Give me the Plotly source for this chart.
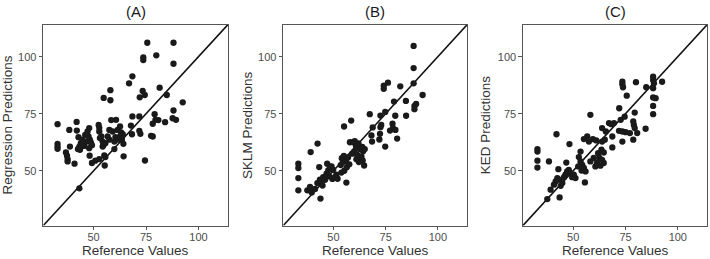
import plotly.graph_objects as go

# ---------------- data ----------------
x_a = [32.8, 32.8, 32.8, 32.8,
       36.8, 37.3, 37.6, 37.6, 38.4, 38.7,
       40.9, 41.9, 42.0, 42.8, 43.2, 43.5, 42.5, 43.2, 44.7, 43.9,
       45.5, 46.0, 47.1, 46.7, 47.9, 47.6, 48.2, 48.1, 49.2, 48.7, 47.9, 49.2,
       50.8, 52.4, 52.7, 52.7, 53.0, 53.7, 54.3, 54.8, 55.1, 55.6, 55.3, 54.6, 54.3, 55.6, 52.7,
       58.0, 58.0, 58.4, 60.7, 57.5, 56.7, 57.5, 59.9, 59.1, 60.4, 59.9,
       61.5, 62.6, 62.6, 63.1, 63.5, 64.2, 64.3, 61.9, 63.9,
       66.9, 68.5, 68.5, 67.8, 68.3, 71.8, 72.0, 71.8, 72.3, 73.4, 73.7, 73.7, 74.4, 74.5, 75.6,
       77.4, 78.2, 78.2, 79.1, 79.5, 79.9, 80.9, 81.5, 84.1, 84.9,
       87.7, 89.3, 88.1, 88.1, 88.1, 92.5]
y_a = [70.4, 61.8, 60.6, 59.6,
       58.0, 56.6, 55.1, 54.1, 67.9, 60.6,
       53.1, 71.4, 67.6, 64.7, 60.6, 59.2, 59.5, 42.3, 63.6, 62.1,
       60.9, 65.7, 67.2, 62.8, 68.7, 65.0, 63.6, 56.6, 53.4, 62.4, 59.9, 61.2,
       54.4, 70.1, 68.8, 67.2, 64.3, 65.0, 60.6, 81.9, 56.7, 56.0, 52.3, 61.1, 62.8, 62.1, 55.1,
       85.3, 80.9, 72.2, 72.3, 67.9, 65.0, 63.6, 59.5, 67.2, 64.7, 62.8,
       67.9, 69.4, 65.0, 66.8, 63.6, 61.8, 56.3, 63.6, 66.0,
       88.3, 91.4, 73.8, 69.8, 66.0, 73.8, 82.2, 67.5, 66.2, 85.0, 99.7, 98.5, 83.2, 54.5, 106.1,
       65.3, 65.0, 70.6, 74.8, 72.3, 100.6, 72.2, 86.4, 71.3, 83.2,
       73.0, 72.3, 106.1, 96.9, 76.4, 80.0]

x_b = [33.2, 33.2, 33.2, 33.2,
       37.5, 38.8, 39.6, 41.2, 39.1, 42.4, 43.2, 43.8,
       42.3, 43.5, 44.2, 45.1, 46.0, 46.7, 47.5, 48.3, 47.0, 49.1, 49.9, 50.7, 49.5, 51.4, 48.0, 52.0, 44.8,
       53.5, 54.0, 54.5, 55.2, 55.0, 56.0, 56.4, 56.2, 55.1, 57.0, 57.6, 53.8,
       58.5, 57.9, 59.0, 59.5, 60.0, 60.8, 61.3, 61.0, 62.0, 62.5, 63.0, 63.4, 63.8, 64.2, 64.7, 64.0, 62.2, 60.2, 65.0,
       67.4, 68.2, 68.5, 68.8, 72.3, 72.0, 72.5, 72.9, 72.5, 74.8, 74.8, 74.1, 74.1, 76.1, 77.1, 78.3, 78.5, 79.7,
       79.0, 79.6, 80.5, 82.0,
       84.7, 84.8, 88.4, 88.4, 88.4, 88.8, 89.6, 88.8, 92.7]
y_b = [53.1, 51.2, 46.8, 41.4,
       41.4, 42.9, 40.5, 42.0, 58.2, 61.9, 51.6, 37.8,
       44.6, 46.1, 45.0, 47.2, 46.0, 48.7, 50.1, 51.9, 53.1, 51.9, 50.4, 47.2, 46.4, 48.3, 47.5, 46.5, 43.5,
       52.5, 55.5, 53.8, 50.0, 56.5, 54.0, 51.5, 44.8, 69.4, 55.8, 52.8, 49.2,
       72.0, 62.5, 57.5, 62.5, 58.5, 60.8, 57.0, 55.0, 62.0, 59.5, 56.0, 56.3, 60.5, 58.5, 52.3, 54.5, 53.8, 63.0, 59.5,
       74.8, 65.5, 62.8, 69.0, 66.2, 63.7, 74.2, 70.1, 69.1, 60.6, 75.8, 87.3, 85.9, 88.6, 67.6, 70.6, 68.7, 67.9,
       80.3, 74.1, 64.1, 87.0,
       80.6, 74.1, 104.7, 95.0, 88.3, 78.4, 79.3, 77.0, 83.2]

x_c = [32.9, 32.9, 32.9, 32.9,
       37.6, 38.4, 39.2, 40.8, 41.6, 42.0, 42.4, 42.9, 43.2, 43.5, 44.0, 44.8,
       45.6, 46.3, 46.7, 47.1, 47.9, 48.2, 48.7, 49.5, 50.3, 51.1,
       52.4, 52.7, 53.5, 53.5, 54.0, 54.3, 55.1, 55.1, 55.6, 55.9, 56.7, 57.5,
       58.2, 58.2, 59.4, 59.8, 60.6, 61.0, 61.4, 61.9, 62.5, 63.0, 63.5, 63.8, 63.8, 63.8, 64.6, 64.6,
       65.1, 65.6, 67.1, 68.2, 69.5, 68.7, 68.7, 71.9, 72.0, 72.7, 73.5, 73.5, 73.5, 73.5, 73.8, 74.6, 75.1, 75.6,
       77.1, 78.7, 79.0, 79.4, 78.7, 79.4, 80.0, 80.6, 84.6, 84.9,
       88.2, 88.2, 88.6, 88.2, 88.2, 89.4, 88.2, 88.2, 92.5]
y_c = [59.5, 58.4, 54.4, 51.4,
       37.6, 54.1, 41.7, 43.9, 45.3, 66.0, 46.8, 50.7, 46.1, 38.3, 43.4, 44.6,
       47.2, 48.3, 53.6, 49.7, 50.4, 61.7, 49.0, 47.2, 48.3, 46.8,
       51.9, 56.0, 58.4, 54.1, 50.1, 52.6, 51.2, 63.9, 44.9, 49.7, 65.0, 62.8,
       74.5, 54.1, 63.9, 55.6, 51.9, 63.3, 53.4, 57.7, 55.6, 52.2, 59.2, 62.8, 54.8, 68.7, 58.0, 53.4,
       63.6, 67.2, 70.9, 70.4, 70.9, 65.0, 60.2, 67.5, 77.4, 72.3, 67.2, 62.8, 89.0, 87.9, 86.6, 73.7, 66.9, 82.9,
       66.5, 71.6, 70.1, 68.7, 63.6, 75.5, 88.8, 66.5, 68.4, 86.6,
       91.2, 89.8, 88.3, 86.2, 82.1, 81.8, 78.4, 74.8, 89.0]

axis_range = [26.0, 114.1]
tick_vals = [50, 75, 100]
tick_text = ["50", "75", "100"]
panel_titles = ["(A)", "(B)", "(C)"]
y_titles = ["Regression Predictions", "SKLM Predictions", "KED Predictions"]
x_title = "Reference Values"

# ---------------- layout geometry ----------------
W, H = 710, 259
FONT = "Liberation Sans, Arial, Helvetica, sans-serif"
px_domains = [(43.3, 228.0), (283.3, 467.3), (523.0, 707.3)]
ytitle_px = [7.4, 247.0, 485.3]
y_dom = [(H - 225.5) / H, (H - 24.5) / H]

fig = go.Figure()
series = [(x_a, y_a), (x_b, y_b), (x_c, y_c)]
annotations = []
for i, (xs, ys) in enumerate(series):
    sfx = "" if i == 0 else str(i + 1)
    xa, ya = "x" + sfx, "y" + sfx
    fig.add_trace(go.Scatter(
        x=axis_range, y=axis_range, mode="lines",
        line=dict(color="#111111", width=1.6),
        xaxis=xa, yaxis=ya, hoverinfo="skip", showlegend=False))
    fig.add_trace(go.Scatter(
        x=xs, y=ys, mode="markers",
        marker=dict(color="#1a1a1a", size=6.3, line=dict(width=0)),
        xaxis=xa, yaxis=ya, showlegend=False))
    d0, d1 = px_domains[i]
    axis_common = dict(
        range=axis_range, tickvals=tick_vals, ticktext=tick_text,
        showgrid=False, zeroline=False, showline=True, mirror=True,
        linecolor="#555555", linewidth=1.3,
        ticks="outside", ticklen=3.5, tickwidth=1, tickcolor="#555555",
        tickfont=dict(family=FONT, size=11, color="#4d4d4d"),
        fixedrange=True, automargin=False)
    fig.layout["xaxis" + sfx] = dict(domain=[d0 / W, d1 / W], anchor=ya,
                                     ticklabelstandoff=-2, **axis_common)
    fig.layout["yaxis" + sfx] = dict(domain=y_dom, anchor=xa, **axis_common)
    cx = (d0 + d1) / 2 / W
    annotations.append(dict(text=panel_titles[i], x=cx, y=(H - 11) / H, xref="paper", yref="paper",
                            showarrow=False, xanchor="center", yanchor="middle",
                            font=dict(family=FONT, size=15, color="#1a1a1a")))
    annotations.append(dict(text=x_title, x=cx, y=(H - 250.5) / H, xref="paper", yref="paper",
                            showarrow=False, xanchor="center", yanchor="middle",
                            font=dict(family=FONT, size=13.5, color="#333333")))
    annotations.append(dict(text=y_titles[i], x=ytitle_px[i] / W, y=(y_dom[0] + y_dom[1]) / 2,
                            xref="paper", yref="paper", textangle=-90,
                            showarrow=False, xanchor="center", yanchor="middle",
                            font=dict(family=FONT, size=13.5, color="#333333")))

fig.update_layout(
    width=W, height=H, margin=dict(l=0, r=0, t=0, b=0),
    paper_bgcolor="white", plot_bgcolor="white",
    annotations=annotations, showlegend=False)

fig.write_html("out.html", config={"displayModeBar": False},
               post_script="document.body.style.margin='0';document.body.style.overflow='hidden';")
